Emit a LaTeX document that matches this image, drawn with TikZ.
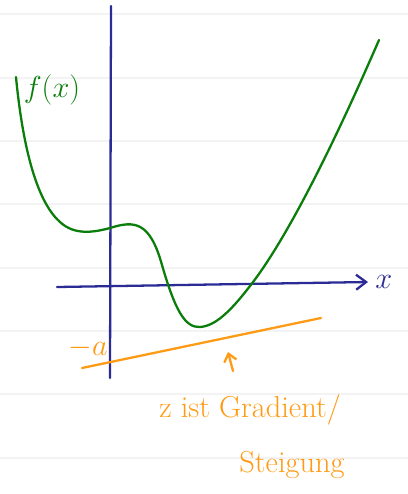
\documentclass[tikz,border=0pt]{standalone}
\usepackage{tikz}
\usetikzlibrary{arrows.meta,positioning}
\definecolor{AxisBlue}{HTML}{2B2B96}
\definecolor{CurveGreen}{HTML}{0A7D0A}
\definecolor{TangOrange}{HTML}{FF9A14}
\definecolor{RuleGray}{HTML}{F3F3F3}
\tikzset{
  axisline/.style={AxisBlue, line width=1.3pt, line cap=round},
  fcurve/.style={CurveGreen, line width=1.3pt, line cap=round},
  tangline/.style={TangOrange, line width=1.3pt, line cap=round},
  note/.style={TangOrange, font=\LARGE, inner sep=1pt},
  ruleline/.style={RuleGray, line width=1pt}
}
\begin{document}
\begin{tikzpicture}[x=0.02cm, y=-0.02cm]
\useasboundingbox (0,0) rectangle (408,494);
% ruled paper
\foreach \y in {14,78,141,204,268,331,394,458}
  \draw[ruleline] (0,\y) -- (408,\y);
% axes
\coordinate (xstart) at (57,287);
\coordinate (xend) at (368,282);
\coordinate (ytop) at (111,6);
\coordinate (ybot) at (110,378);
\draw[axisline, -{Straight Barb[length=2mm, width=3mm]}] (xstart) -- (xend);
\draw[axisline] (ytop) -- (ybot);
\node[AxisBlue, font=\LARGE, inner sep=1pt, right=3pt of xend] (xlab) {$x$};
% function
\draw[fcurve] (16,77) .. controls (22,140) and (35,200) .. (60,222)
  .. controls (75,236) and (95,232) .. (110,228)
  .. controls (135,220) and (150,222) .. (162,265)
  .. controls (175,310) and (185,328) .. (200,327)
  .. controls (215,326) and (230,312) .. (250,286)
  .. controls (290,235) and (340,130) .. (379,40);
\node[CurveGreen, font=\LARGE, inner sep=1pt] (flab) at (52,90) {$f(x)$};
% tangent line
\coordinate (tstart) at (82,368);
\coordinate (tend) at (321,318);
\draw[tangline] (tstart) -- (tend);
\node[note] (alab) at (88,348) {$-a$};
% pointer and note
\coordinate (ptail) at (233,371);
\coordinate (phead) at (228,352);
\draw[tangline, -{Straight Barb[length=1.5mm, width=2.5mm]}] (ptail) -- (phead);
\node[note] (zlab) at (250,410) {z ist Gradient/};
\node[note] (slab) at (292,465) {Steigung};
\end{tikzpicture}
\end{document}
